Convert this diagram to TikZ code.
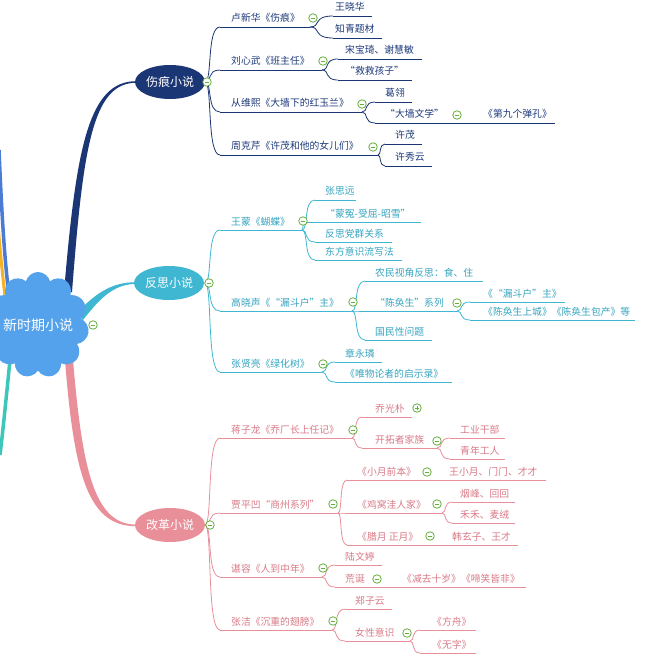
\documentclass[tikz,border=0pt]{standalone}
\usepackage{fontspec}
\setmainfont{Noto Sans CJK SC}
\newfontfamily\fwfont[RawFeature=+fwid]{Noto Sans CJK SC}
\usetikzlibrary{shapes.geometric,shapes.symbols,calc}
\definecolor{cNavy}{HTML}{1B3674}
\definecolor{cNavyT}{HTML}{1E3A7B}
\definecolor{cTeal}{HTML}{3FB7D2}
\definecolor{cTealT}{HTML}{36A5BF}
\definecolor{cPink}{HTML}{E98F9A}
\definecolor{cPinkT}{HTML}{D97A87}
\definecolor{cCloud}{HTML}{54A1EC}
\definecolor{cLBlue}{HTML}{4C7BD3}
\definecolor{cYel}{HTML}{F6B226}
\definecolor{cMint}{HTML}{3CC7BA}
\definecolor{cGreen}{HTML}{65AE3E}
\colorlet{br}{cNavy}
\colorlet{brt}{cNavyT}
\newcommand\Lq{{\fwfont “}}
\newcommand\Rq{{\fwfont ”}}
\tikzset{
  lbl/.style={font=\fontsize{9.8}{11}\selectfont, text=brt, inner sep=0pt, anchor=base west},
  ul/.style={draw=br, line width=0.8pt},
  topic/.style={ellipse, fill=#1, text=white, font=\fontsize{12}{14}\selectfont, minimum width=70pt, minimum height=34pt, inner sep=0pt},
  mn/.style={circle, draw=cGreen, fill=white, line width=0.8pt, minimum size=8.5pt, inner sep=0pt,
    path picture={\draw[cGreen, line width=0.9pt] ([xshift=-2.3pt]path picture bounding box.center) -- ([xshift=2.3pt]path picture bounding box.center);}},
  pl/.style={mn, path picture={\draw[cGreen, line width=0.9pt] ([xshift=-2.3pt]path picture bounding box.center) -- ([xshift=2.3pt]path picture bounding box.center) ([yshift=-2.3pt]path picture bounding box.center) -- ([yshift=2.3pt]path picture bounding box.center);}},
  fk/.style={to path={let \p1=(\tikztostart), \p2=(\tikztotarget) in .. controls ({0.5*\x1+0.5*\x2},\y1) and ({0.9*\x1+0.1*\x2},\y2) .. (\tikztotarget)}}
}
\newcommand\itm[6]{\coordinate (#1L) at (#2,#4); \coordinate (#1R) at (#3,#4); \draw[ul] (#1L) -- (#1R); \node[lbl] (#1) at (#5,#4-5) {#6};}
\newcommand\forkto[2]{\draw[ul] (#1) to[fk] (#2);}
\newcommand\icn[3]{\node[mn] (#1) at (#2,#3) {};}
\begin{document}
\begin{tikzpicture}[x=1pt,y=-1pt]
\useasboundingbox (0,0) rectangle (644,660);
\clip (0,0) rectangle (644,660);
\fill[white] (0,0) rectangle (644,660);
% clipped left branches
\draw[cYel, line width=3pt] (-2,225) .. controls (1,260) and (3,280) .. (6,305);
\draw[cLBlue, line width=3.5pt] (-1,150) .. controls (2,220) and (5,270) .. (11,310);
\draw[cMint, line width=3.5pt] (10,360) .. controls (6,400) and (3,430) .. (0,455);
% main branches (tapered)
\fill[cNavy] (64,292) .. controls (76,150) and (88,81.2) .. (136,81.2) -- (136,82.8) .. controls (92,82.8) and (83,150) .. (72,292) -- cycle;
\fill[cTeal] (76,314) .. controls (98,290) and (115,282.2) .. (136,282.2) -- (136,283.8) .. controls (116,284.5) and (103,294) .. (83,320) -- cycle;
\fill[cPink] (65,360) .. controls (74,475) and (88,526.2) .. (136,526.2) -- (136,524.6) .. controls (93,524.6) and (82,465) .. (73,360) -- cycle;
% central cloud
\node[cloud, cloud puffs=11, aspect=1, fill=cCloud, minimum width=102pt, minimum height=106pt, inner sep=0pt] (root) at (38,325) {};
\node[text=white, font=\fontsize{14}{16}\selectfont, inner sep=0pt] (rootlbl) at (38,325) {新时期小说};
\icn{iroot}{93}{325}
% ===== 伤痕小说 =====
\begin{scope}
\colorlet{br}{cNavy}\colorlet{brt}{cNavyT}
\coordinate (sA) at (205,82);
\itm{a1}{220}{310}{27}{231}{卢新华《伤痕》}
\itm{a11}{333}{372}{16}{335}{王晓华}
\itm{a12}{333}{382}{38}{335}{知青题材}
\itm{a2}{220}{322}{70}{231}{刘心武《班主任》}
\itm{a21}{338}{422}{59}{345}{宋宝琦、谢慧敏}
\itm{a22}{338}{412}{80}{345}{\Lq 救救孩子\Rq}
\itm{a3}{220}{362}{112}{231}{从维熙《大墙下的红玉兰》}
\itm{a31}{375}{412}{102}{385}{葛翎}
\itm{a32}{375}{470}{123}{385}{\Lq 大墙文学\Rq}
\itm{a321}{470}{555}{123}{483}{《第九个弹孔》}
\itm{a4}{220}{378}{155}{231}{周克芹《许茂和他的女儿们》}
\itm{a41}{385}{422}{144}{395}{许茂}
\itm{a42}{385}{432}{166}{395}{许秀云}
\forkto{sA}{a1L}\forkto{sA}{a2L}\forkto{sA}{a3L}\forkto{sA}{a4L}
\forkto{a1R}{a11L}\forkto{a1R}{a12L}
\forkto{a2R}{a21L}\forkto{a2R}{a22L}
\forkto{a3R}{a31L}\forkto{a3R}{a32L}
\forkto{a4R}{a41L}\forkto{a4R}{a42L}
\node[topic=cNavy] (tA) at (170,82) {伤痕小说};
\icn{iA}{207}{82}
\icn{ia1}{313}{18}
\icn{ia2}{323}{61}
\icn{ia3}{362}{104}
\icn{ia32}{457}{115}
\icn{ia4}{373}{147}
\end{scope}
% ===== 反思小说 =====
\begin{scope}
\colorlet{br}{cTeal}\colorlet{brt}{cTealT}
\coordinate (sB) at (205,283);
\itm{b1}{220}{302}{230}{231}{王蒙《蝴蝶》}
\itm{b11}{315}{356}{200}{325}{张思远}
\itm{b12}{305}{421}{222}{325}{\Lq 蒙冤-受屈-昭雪\Rq}
\itm{b13}{315}{392}{242}{325}{反思党群关系}
\itm{b14}{315}{402}{260}{325}{东方意识流写法}
\itm{b2}{220}{352}{311}{231}{高晓声《\Lq 漏斗户\Rq 主》}
\itm{b21}{365}{483}{281}{375}{农民视角反思：食、住}
\itm{b22}{360}{457}{311}{375}{\Lq 陈奂生\Rq 系列}
\itm{b221}{470}{565}{302}{483}{《\Lq 漏斗户\Rq 主》}
\itm{b222}{470}{635}{320}{483}{《陈奂生上城》《陈奂生包产》等}
\itm{b23}{365}{432}{340}{375}{国民性问题}
\itm{b3}{220}{322}{372}{231}{张贤亮《绿化树》}
\itm{b31}{335}{382}{362}{345}{章永璘}
\itm{b32}{335}{452}{382}{345}{《唯物论者的启示录》}
\forkto{sB}{b1L}\forkto{sB}{b2L}\forkto{sB}{b3L}
\forkto{b1R}{b11L}\forkto{b1R}{b12L}\forkto{b1R}{b13L}\forkto{b1R}{b14L}
\forkto{b2R}{b21L}\forkto{b2R}{b22L}\forkto{b2R}{b23L}
\forkto{b22R}{b221L}\forkto{b22R}{b222L}
\forkto{b3R}{b31L}\forkto{b3R}{b32L}
\node[topic=cTeal] (tB) at (169,283) {反思小说};
\icn{iB}{209}{283}
\icn{ib1}{303}{221}
\icn{ib2}{353}{302}
\icn{ib22}{457}{303}
\icn{ib3}{323}{364}
\end{scope}
% ===== 改革小说 =====
\begin{scope}
\colorlet{br}{cPink}\colorlet{brt}{cPinkT}
\coordinate (sC) at (205,525);
\itm{c1}{220}{352}{438}{231}{蒋子龙《乔厂长上任记》}
\itm{c11}{362}{412}{417}{375}{乔光朴}
\itm{c12}{362}{437}{448}{375}{开拓者家族}
\itm{c121}{450}{505}{438}{460}{工业干部}
\itm{c122}{450}{505}{459}{460}{青年工人}
\itm{c2}{220}{338}{513}{231}{贾平凹\Lq 商州系列\Rq}
\itm{c21}{347}{440}{480}{357}{《小月前本》}
\itm{c211}{440}{546}{480}{449}{王小月、门门、才才}
\itm{c22}{347}{442}{513}{357}{《鸡窝洼人家》}
\itm{c221}{452}{515}{502}{460}{烟峰、回回}
\itm{c222}{452}{515}{523}{460}{禾禾、麦绒}
\itm{c23}{347}{440}{545}{357}{《腊月 正月》}
\itm{c231}{440}{518}{545}{452}{韩玄子、王才}
\itm{c3}{220}{322}{577}{231}{谌容《人到中年》}
\itm{c31}{335}{382}{565}{345}{陆文婷}
\itm{c32}{335}{390}{587}{345}{荒诞}
\itm{c321}{390}{526}{587}{402}{《减去十岁》《啼笑皆非》}
\itm{c4}{220}{332}{630}{231}{张洁《沉重的翅膀》}
\itm{c41}{345}{392}{609}{355}{郑子云}
\itm{c42}{345}{410}{641}{355}{女性意识}
\itm{c421}{420}{476}{630}{432}{《方舟》}
\itm{c422}{420}{476}{653}{432}{《无字》}
\forkto{sC}{c1L}\forkto{sC}{c2L}\forkto{sC}{c3L}\forkto{sC}{c4L}
\forkto{c1R}{c11L}\forkto{c1R}{c12L}
\forkto{c12R}{c121L}\forkto{c12R}{c122L}
\forkto{c2R}{c21L}\forkto{c2R}{c22L}\forkto{c2R}{c23L}
\forkto{c22R}{c221L}\forkto{c22R}{c222L}
\forkto{c3R}{c31L}\forkto{c3R}{c32L}
\forkto{c4R}{c41L}\forkto{c4R}{c42L}
\forkto{c42R}{c421L}\forkto{c42R}{c422L}
\node[topic=cPink] (tC) at (170,525) {改革小说};
\icn{iC}{210}{525}
\icn{ic1}{353}{430}
\node[pl] (ic11) at (417,408) {};
\icn{ic12}{437}{441}
\icn{ic2}{333}{504}
\icn{ic21}{427}{472}
\icn{ic22}{437}{504}
\icn{ic23}{430}{536}
\icn{ic3}{323}{568}
\icn{ic32}{377}{579}
\icn{ic4}{333}{621}
\icn{ic42}{407}{633}
\end{scope}
\end{tikzpicture}
\end{document}
